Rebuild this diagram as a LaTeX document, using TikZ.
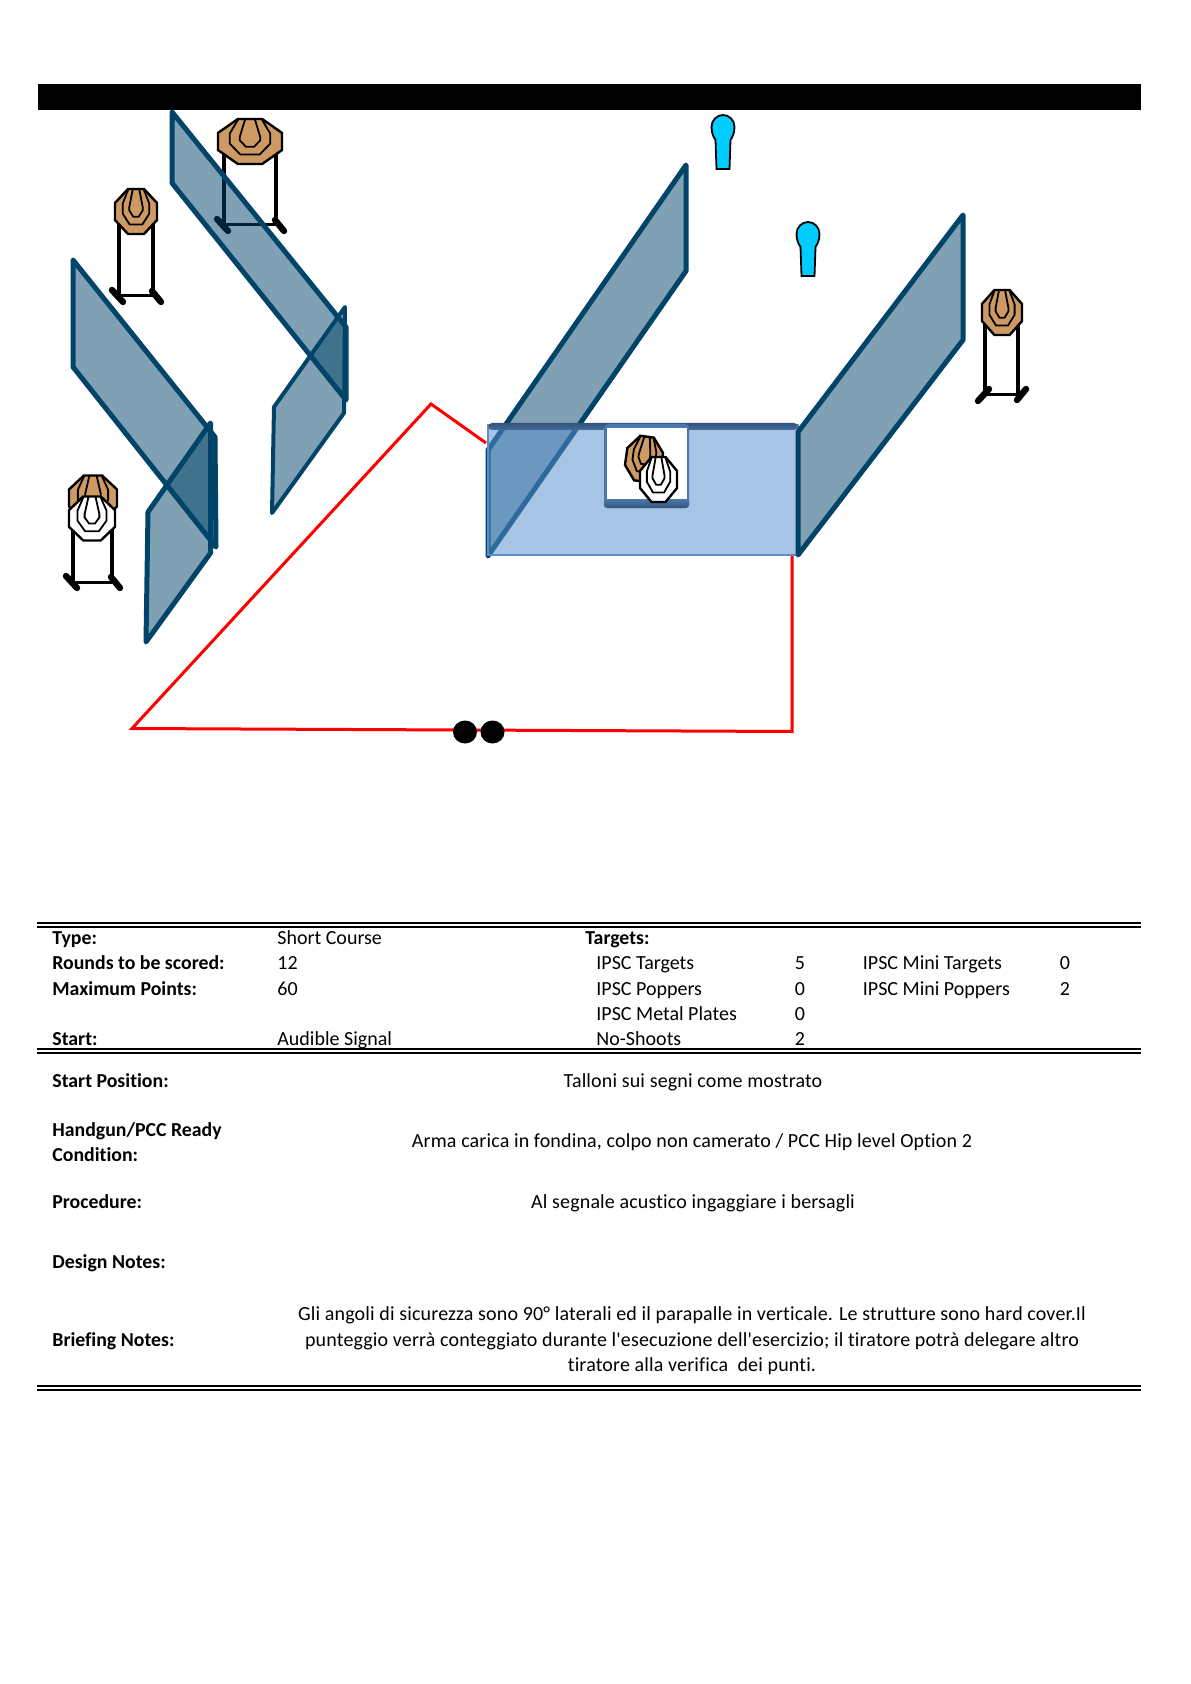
\documentclass[tikz,border=0pt]{standalone}
\usepackage{fontspec}
\setmainfont{Carlito}
\newfontfamily\tablefont{Carlito}[Ligatures=CommonOff]
\newfontfamily\notefont{Carlito}[Ligatures=CommonOff,LetterSpace=0.8]
\usepackage{xcolor}
\usepackage{tikz}
\definecolor{wallblue}{HTML}{004469}
\definecolor{frontblue}{HTML}{5A8ECC}
\definecolor{frontedge}{HTML}{34547C}
\definecolor{cardboard}{HTML}{CE9A63}
\definecolor{popperblue}{HTML}{00CCFF}
\tikzset{
  wall/.style={draw=wallblue, line width=2.5pt, line join=round, line cap=round, fill=wallblue, fill opacity=0.5},
  thinwall/.style={wall, line width=2pt},
  faultline/.style={draw=red, line width=1.5pt, line join=miter},
  pole/.style={draw=black, line width=2pt},
  crossbar/.style={draw=black, line width=1.5pt},
  foot/.style={draw=black, line width=3.2pt, line cap=round},
  ring/.style={draw=black, line width=1.2pt, line join=miter},
  innerring/.style={draw=black, line width=0.9pt, line join=miter},
  rule/.style={draw=black, line width=1pt},
  head/.style={font=\fontsize{9.9}{12}\tablefont\bfseries, anchor=base west, inner sep=0pt},
  value/.style={font=\fontsize{10}{12}\tablefont, anchor=base west, inner sep=0pt},
  count/.style={font=\fontsize{10}{12}\tablefont, anchor=base, inner sep=0pt},
  note/.style={font=\fontsize{10}{12}\notefont, anchor=base, inner sep=0pt}
}
\newcommand{\targetstand}[5]{%
  \draw[pole] (#1,#3) -- (#1,#4);
  \draw[pole] (#2,#3) -- (#2,#4);
  \draw[crossbar] (#1,#4) -- (#2,#4);
  \draw[foot] (#1-7,#4-6*#5) -- (#1+4,#4+6*#5);
  \draw[foot] (#2-1,#4-5*#5) -- (#2+8,#4+6*#5);
}
\newcommand{\targethead}[6]{%
  \begin{scope}[shift={(#1,#2)},rotate=#6,xscale=#3,yscale=#4]
    \draw[ring, fill=#5] (-.38,-1) -- (.38,-1) -- (1,-.38) -- (1,.38) -- (.38,1) -- (-.38,1) -- (-1,.38) -- (-1,-.38) -- cycle;
    \draw[innerring] (-.36,-1) -- (-.63,-.36) -- (-.63,.1) -- (-.3,.58) -- (.3,.58) -- (.63,.1) -- (.63,-.36) -- (.36,-1);
    \draw[innerring] (-.15,-1) -- (-.32,-.2) -- (-.32,-.05) -- (-.13,.23) -- (.13,.23) -- (.32,-.05) -- (.32,-.2) -- (.15,-1);
  \end{scope}
}
\newcommand{\popper}[2]{%
  \begin{scope}[shift={(#1,#2)}]
    \draw[innerring, fill=popperblue] (-6.5,54) -- (-7.5,25) .. controls (-9,22.5) and (-11.5,19) .. (-11.5,12)
      .. controls (-11.5,5) and (-6,0) .. (0,0) .. controls (6,0) and (11.5,5) .. (11.5,12)
      .. controls (11.5,19) and (9,22.5) .. (7.5,25) -- (6.5,54) -- cycle;
  \end{scope}
}
\begin{document}
\begin{tikzpicture}[x=0.5pt,y=-0.5pt]
\path[use as bounding box] (0,0) rectangle (1190,1684);
\fill[white] (0,0) rectangle (1190,1684);
\fill[black] (38,84) rectangle (1141,110.5);

% stands stay under the walls
\targetstand{224}{276}{150}{225}{1}
\targetstand{119}{153}{220}{296}{1}
\targetstand{985}{1018}{320}{395}{-1}
\targetstand{73}{112}{525}{582}{1}

% left walls
\draw[wall] (172,112) -- (346,327) -- (346,400) -- (172,183) -- cycle;
\draw[thinwall] (345,307) -- (344,413) -- (272,513) -- (274,407) -- cycle;
\draw[wall] (73,260) -- (215,437) -- (216,547) -- (73,367) -- cycle;
\draw[wall] (210.5,423) -- (210.5,553) -- (146,642) -- (148,512) -- cycle;

% shooting area
\draw[faultline] (792,556) -- (792,731.5) -- (132,728.5) -- (431,404) -- (486,443);
\fill[black] (465,732) ellipse [x radius=12, y radius=11.5];
\fill[black] (492.5,732) ellipse [x radius=12, y radius=11.5];

% right walls and front wall with the window
\draw[wall] (686,165) -- (686,271) -- (488,556) -- (488,450) -- cycle;
\draw[draw=frontblue, line width=0.8pt, fill=frontblue, fill opacity=0.52] (488,425) rectangle (798,555);
\shade[top color=frontedge, bottom color=frontedge!60!frontblue, rounded corners=2pt] (488,423) rectangle (798,430);
\fill[frontblue!85!black, rounded corners=2pt] (604,424) rectangle (689,508);
\fill[white] (607,428) rectangle (687,499);
\shade[top color=frontblue!85!black, bottom color=frontedge, rounded corners=1.5pt] (604,499) rectangle (689,508);
\draw[wall] (963,215) -- (963,340) -- (798,555) -- (798,432) -- cycle;

% target heads
\targethead{250}{141.5}{32}{22.5}{cardboard}{0}
\targethead{136}{211.5}{21}{22.5}{cardboard}{0}
\targethead{1002}{312.5}{20}{22.5}{cardboard}{0}
\targethead{93}{498}{24}{22.5}{cardboard}{0}
\targethead{92}{518.5}{23}{22}{white}{0}
\targethead{644}{459}{18}{22.5}{cardboard}{-8}
\targethead{658.5}{479.5}{18.5}{22.5}{white}{0}

% poppers
\popper{723}{115}
\popper{808}{222}

% data table
\draw[rule] (37,923) -- (1141,923);
\draw[rule] (37,927) -- (1141,927);
\draw[rule] (37,1049) -- (1141,1049);
\draw[rule] (37,1052.5) -- (1141,1052.5);
\draw[rule] (37,1386) -- (1141,1386);
\draw[rule] (37,1390) -- (1141,1390);

\node[head] (type) at (52,944.5) {Type:};
\node[value] (typeval) at (277,944.5) {Short Course};
\node[head] (rounds) at (52,969.5) {Rounds to be scored:};
\node[value] (roundsval) at (277,969.5) {12};
\node[head] (points) at (52,995) {Maximum Points:};
\node[value] (pointsval) at (277,995) {60};
\node[head] (start) at (52,1045) {Start:};
\node[value] (startval) at (277,1045) {Audible Signal};

\node[head] (targets) at (585,944.5) {Targets:};
\node[value] (ipsct) at (596,969.5) {IPSC Targets};
\node[count] (ipsctn) at (800,969.5) {5};
\node[value] (ipscp) at (596,995) {IPSC Poppers};
\node[count] (ipscpn) at (800,995) {0};
\node[value] (ipscm) at (596,1020) {IPSC Metal Plates};
\node[count] (ipscmn) at (800,1020) {0};
\node[value] (noshoot) at (596,1045) {No-Shoots};
\node[count] (noshootn) at (800,1045) {2};
\node[value] (minit) at (862.5,969.5) {IPSC Mini Targets};
\node[count] (minitn) at (1065,969.5) {0};
\node[value] (minip) at (862.5,995) {IPSC Mini Poppers};
\node[count] (minipn) at (1065,995) {2};

\node[head] (startpos) at (52,1087.5) {Start Position:};
\node[note] (startposval) at (693,1087.5) {Talloni sui segni come mostrato};
\node[head] (ready1) at (52,1136) {Handgun/PCC Ready};
\node[head] (ready2) at (52,1161.5) {Condition:};
\node[note] (readyval) at (692,1147.5) {Arma carica in fondina, colpo non camerato / PCC Hip level Option 2};
\node[head] (proc) at (52,1208) {Procedure:};
\node[note] (procval) at (693,1208) {Al segnale acustico ingaggiare i bersagli};
\node[head] (design) at (52,1268) {Design Notes:};
\node[head] (briefing) at (52,1346) {Briefing Notes:};
\node[note] (brief1) at (692,1320.5) {Gli angoli di sicurezza sono 90° laterali ed il parapalle in verticale. Le strutture sono hard cover.Il};
\node[note] (brief2) at (692,1346) {punteggio verrà conteggiato durante l'esecuzione dell'esercizio; il tiratore potrà delegare altro};
\node[note] (brief3) at (692,1371) {tiratore alla verifica\ \ dei punti.};
\end{tikzpicture}
\end{document}
